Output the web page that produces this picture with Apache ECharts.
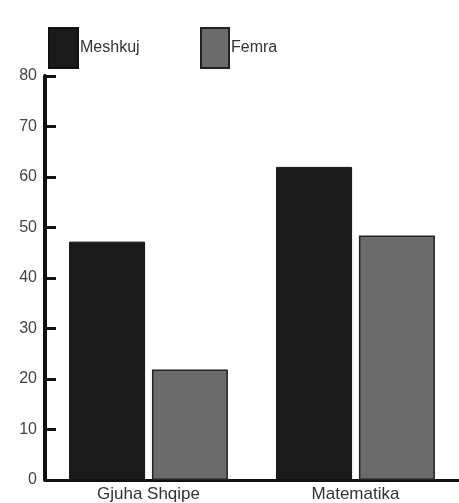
<!DOCTYPE html>
<html>
<head>
<meta charset="utf-8">
<script src="https://cdn.jsdelivr.net/npm/echarts@6/dist/echarts.min.js"></script>
<style>html,body{margin:0;padding:0;background:#fff}#c{width:459px;height:503px}</style>
</head>
<body>
<div id="c"></div>
<script>
const categories = ['Gjuha Shqipe', 'Matematika'];
const meshkuj = [47.2, 62.0];
const femra = [21.9, 48.4];
const seriesNames = ['Meshkuj', 'Femra'];

const chart = echarts.init(document.getElementById('c'), null, {renderer: 'canvas'});
const font = 'Liberation Sans, Arial, sans-serif';
chart.setOption({
  animation: false,
  backgroundColor: '#fff',
  legend: [
    {data: [seriesNames[0]], icon: 'rect', left: 43, top: 22, itemWidth: 29, itemHeight: 40, itemGap: 0,
     textStyle: {fontFamily: font, fontSize: 16, color: '#333', padding: [0,0,0,-3]}},
    {data: [seriesNames[1]], icon: 'rect', left: 195, top: 22, itemWidth: 28, itemHeight: 40, itemGap: 0,
     textStyle: {fontFamily: font, fontSize: 16, color: '#333', padding: [0,0,0,-3]}}
  ],
  grid: {left: 45, right: 0, top: 76, bottom: 22, containLabel: false},
  xAxis: {
    type: 'category',
    data: categories,
    axisLine: {lineStyle: {color: '#111', width: 3}},
    axisTick: {inside: true, length: 8, lineStyle: {color: '#111', width: 3}},
    axisLabel: {fontFamily: font, fontSize: 17, color: '#333', margin: 6}
  },
  yAxis: {
    type: 'value',
    min: 0, max: 80, interval: 10,
    splitLine: {show: false},
    axisLine: {show: true, lineStyle: {color: '#111', width: 4}},
    axisTick: {show: true, inside: true, length: 11, lineStyle: {color: '#111', width: 3}},
    axisLabel: {fontFamily: font, fontSize: 16, color: '#444', margin: 8}
  },
  series: [
    {name: seriesNames[0], type: 'bar', data: meshkuj, barWidth: 76, barGap: '9%',
     itemStyle: {color: '#1a1a1a', borderColor: '#111', borderWidth: 1}},
    {name: seriesNames[1], type: 'bar', data: femra, barWidth: 76,
     itemStyle: {color: '#6b6b6b', borderColor: '#222', borderWidth: 1.5}}
  ]
});
</script>
</body>
</html>
